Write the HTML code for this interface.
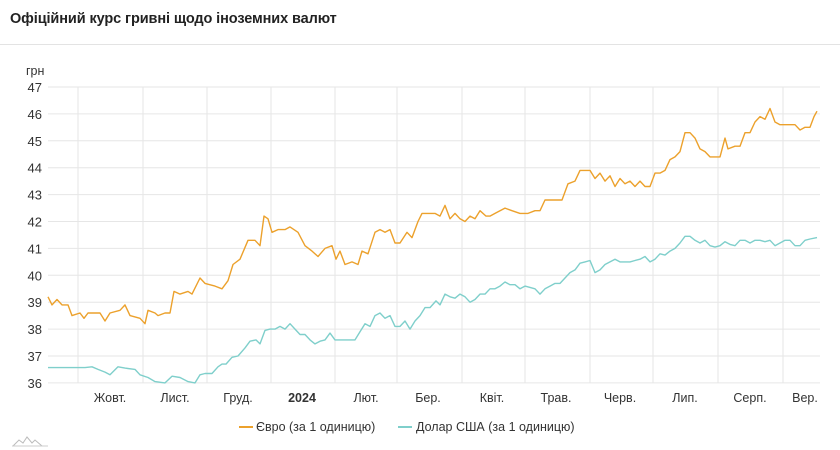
<!DOCTYPE html>
<html><head><meta charset="utf-8"><style>
body{margin:0;width:840px;height:450px;background:#fff;font-family:"Liberation Sans",sans-serif;overflow:hidden;position:relative}
.t{position:absolute;left:10px;top:11px;font-size:14.5px;color:#222;font-weight:bold;letter-spacing:-0.1px}
.hr{position:absolute;left:0;top:44px;width:840px;height:1px;background:#e3e3e3}
</style></head><body>
<div class="t">Офіційний курс гривні щодо іноземних валют</div>
<div class="hr"></div>
<svg id="s" width="840" height="450" style="position:absolute;left:0;top:0" font-family="Liberation Sans, sans-serif"></svg>
<script>
var s=document.getElementById('s'),h='';
function Y(v){return 87+(47-v)*26.9;}
for(var v=36;v<=47;v++){var y=Y(v).toFixed(1);h+='<line x1="48" x2="820" y1="'+y+'" y2="'+y+'" stroke="#e6e6e6"/>';h+='<text x="42" y="'+(+y+5)+'" font-size="13" fill="#333" text-anchor="end">'+v+'</text>';}
var gx=[78,143,207,271,335,397,462,525,590,653,718,783];
gx.forEach(function(x){h+='<line x1="'+x+'" x2="'+x+'" y1="87" y2="383" stroke="#e6e6e6"/>';});
var lb=['Жовт.','Лист.','Груд.','2024','Лют.','Бер.','Квіт.','Трав.','Черв.','Лип.','Серп.','Вер.'];
var lx=[110,175,238,302,366,428,492,556,620,685,750,805];
lb.forEach(function(t,i){h+='<text x="'+lx[i]+'" y="402" font-size="12.5" fill="#333" text-anchor="middle"'+(i==3?' font-weight="bold"':'')+'>'+t+'</text>';});
h+='<text x="26" y="75" font-size="12.5" fill="#333">грн</text>';
var e=[48,39.2,52,38.9,57,39.1,62,38.9,68,38.9,72,38.5,80,38.6,84,38.4,88,38.6,95,38.6,100,38.6,105,38.3,110,38.6,120,38.7,125,38.9,130,38.5,140,38.4,145,38.2,148,38.7,155,38.6,158,38.5,165,38.6,170,38.6,174,39.4,180,39.3,188,39.4,192,39.3,200,39.9,205,39.7,215,39.6,222,39.5,228,39.8,233,40.4,240,40.6,248,41.3,255,41.3,260,41.1,264,42.2,268,42.1,272,41.6,278,41.7,285,41.7,290,41.8,298,41.6,305,41.1,312,40.9,318,40.7,325,41.0,332,41.1,336,40.6,340,40.9,345,40.4,352,40.5,358,40.4,362,40.9,368,40.8,375,41.6,380,41.7,385,41.6,390,41.7,395,41.2,400,41.2,407,41.6,412,41.4,418,42.0,422,42.3,428,42.3,435,42.3,440,42.2,445,42.6,450,42.1,455,42.3,460,42.1,465,42.0,470,42.2,475,42.1,480,42.4,486,42.2,490,42.2,495,42.3,505,42.5,512,42.4,520,42.3,528,42.3,535,42.4,540,42.4,545,42.8,550,42.8,555,42.8,562,42.8,568,43.4,575,43.5,580,43.9,585,43.9,590,43.9,595,43.6,600,43.8,605,43.5,610,43.7,615,43.3,620,43.6,625,43.4,630,43.5,635,43.3,640,43.5,645,43.3,650,43.3,655,43.8,660,43.8,665,43.9,670,44.3,675,44.4,680,44.6,685,45.3,690,45.3,695,45.1,700,44.7,705,44.6,710,44.4,720,44.4,725,45.1,728,44.7,735,44.8,740,44.8,745,45.3,750,45.3,755,45.7,760,45.9,765,45.8,770,46.2,775,45.7,780,45.6,785,45.6,790,45.6,795,45.6,800,45.4,805,45.5,810,45.5,814,45.9,817,46.1];
var d=[48,36.57,85,36.57,92,36.6,98,36.5,105,36.4,110,36.3,118,36.6,125,36.55,135,36.5,140,36.3,148,36.2,155,36.05,165,36.0,172,36.25,180,36.2,188,36.05,195,36.0,200,36.3,205,36.35,212,36.35,218,36.6,222,36.7,226,36.7,232,36.95,238,37.0,245,37.3,250,37.55,256,37.6,260,37.45,265,37.95,270,38.0,275,38.0,280,38.1,285,38.0,290,38.2,295,38.0,300,37.8,305,37.8,310,37.6,315,37.45,320,37.55,325,37.6,330,37.85,335,37.6,340,37.6,345,37.6,350,37.6,355,37.6,360,37.9,365,38.2,370,38.1,375,38.5,380,38.6,385,38.4,390,38.5,395,38.1,400,38.1,405,38.3,410,38.0,415,38.3,420,38.5,425,38.8,430,38.8,436,39.05,440,38.9,445,39.3,450,39.2,455,39.15,460,39.3,465,39.2,470,39.0,475,39.1,480,39.3,485,39.3,490,39.5,495,39.5,500,39.6,505,39.75,510,39.65,515,39.65,520,39.5,525,39.6,530,39.55,535,39.5,540,39.3,545,39.5,550,39.6,555,39.7,560,39.7,565,39.9,570,40.1,575,40.2,580,40.45,585,40.5,590,40.55,595,40.1,600,40.2,605,40.4,610,40.5,615,40.6,620,40.5,625,40.5,630,40.5,635,40.55,640,40.6,645,40.7,650,40.5,655,40.6,660,40.8,665,40.75,670,40.9,675,41.0,680,41.2,685,41.45,690,41.45,695,41.3,700,41.2,705,41.3,710,41.1,715,41.05,720,41.1,725,41.25,730,41.15,735,41.1,740,41.3,745,41.3,750,41.2,755,41.3,760,41.3,765,41.25,770,41.3,775,41.1,780,41.2,785,41.3,790,41.3,795,41.1,800,41.1,805,41.3,810,41.35,817,41.4];
function P(a,c){var p=[];for(var i=0;i<a.length;i+=2)p.push(a[i]+','+Y(a[i+1]).toFixed(1));return '<polyline fill="none" stroke="'+c+'" stroke-width="1.4" stroke-linejoin="round" points="'+p.join(' ')+'"/>';}
h+=P(d,'#7fcfcb')+P(e,'#eca12c');
h+='<line x1="239" x2="253" y1="427" y2="427" stroke="#eca12c" stroke-width="2"/><text x="256" y="431" font-size="12.5" fill="#333">Євро (за 1 одиницю)</text>';
h+='<line x1="398" x2="412" y1="427" y2="427" stroke="#7fcfcb" stroke-width="2"/><text x="416" y="431" font-size="12.5" fill="#333">Долар США (за 1 одиницю)</text>';
h+='<path d="M13 446 L19 440 L23 443 L27 437 L32 443 L35 440 L42 446" fill="none" stroke="#bbb" stroke-width="1"/><line x1="12" x2="48" y1="446" y2="446" stroke="#ccc"/>';
s.innerHTML=h;
</script>
</body></html>
